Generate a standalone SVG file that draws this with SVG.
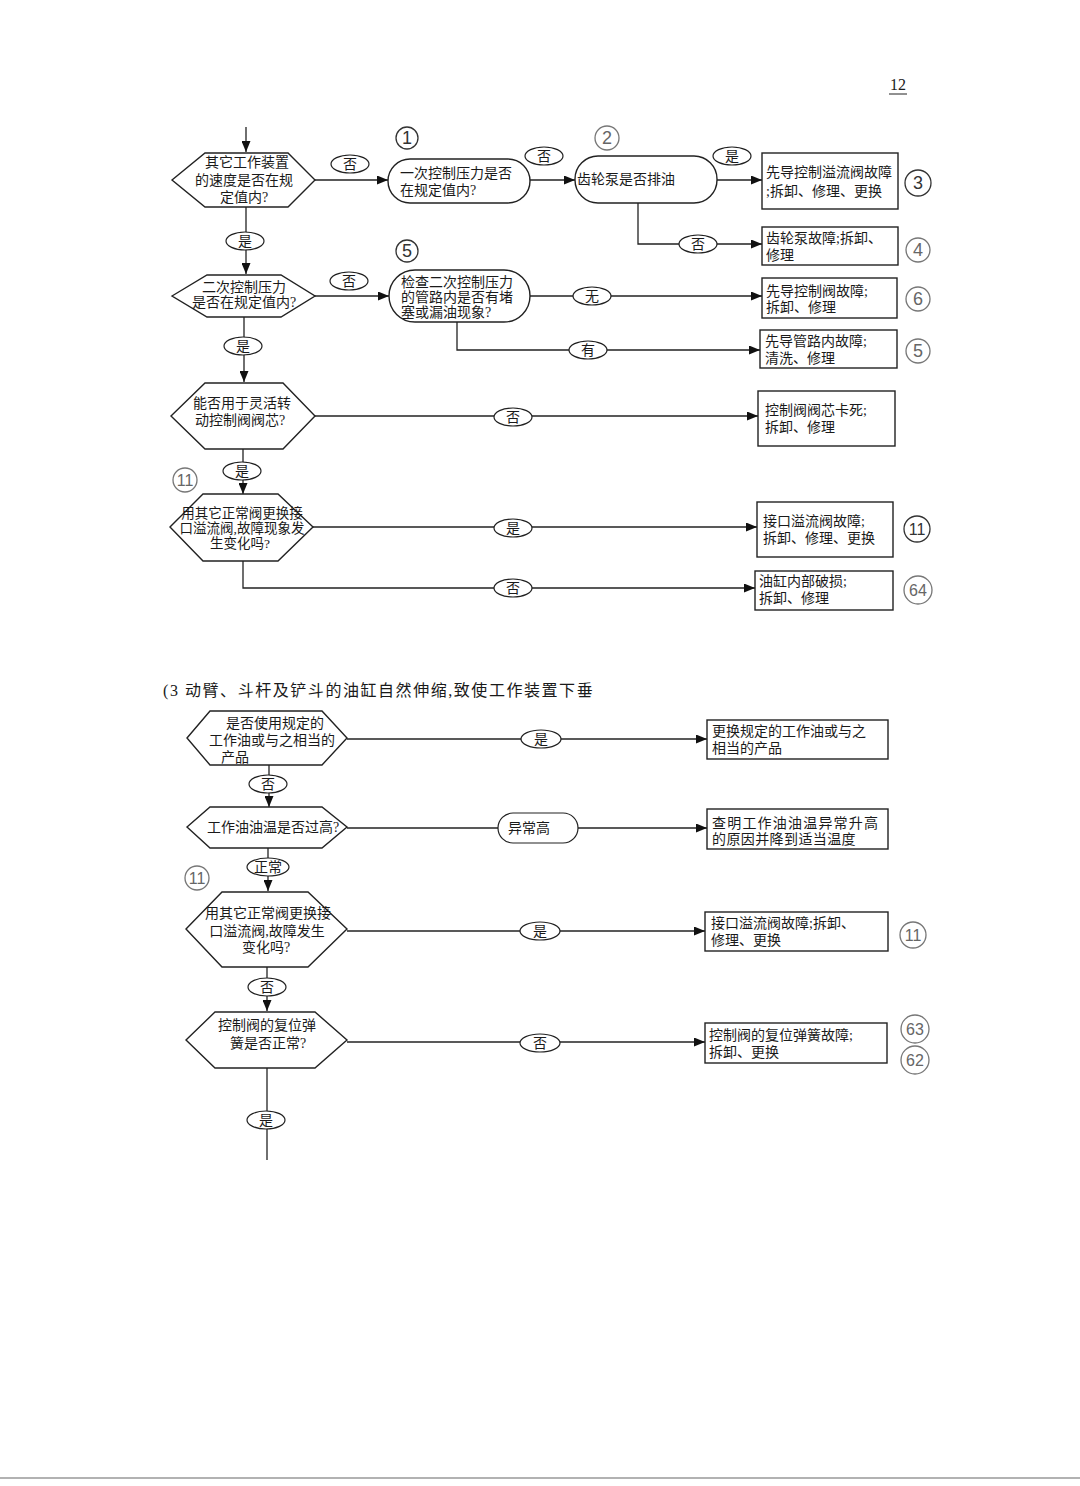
<svg xmlns="http://www.w3.org/2000/svg" width="1080" height="1486" viewBox="0 0 1080 1486">
<defs>
<marker id="arr" markerWidth="11" markerHeight="9" refX="11" refY="4.5" orient="auto" markerUnits="userSpaceOnUse"><path d="M0,0 L11,4.5 L0,9 z" fill="#111"/></marker>
<style>
.shape{fill:#fff;stroke:#222;stroke-width:1.4}
.ln{fill:none;stroke:#222;stroke-width:1.3}
.lbl{fill:#fff;stroke:#222;stroke-width:1.2}
text{font-family:"Liberation Serif","Noto Sans CJK SC",serif;font-size:14px;fill:#1a1a1a;dominant-baseline:central}
.c{text-anchor:middle}
.note{fill:none;stroke:#777;stroke-width:1.3}
.notet{fill:#666;font-family:"Liberation Sans","Noto Sans CJK SC",sans-serif;font-size:18px;text-anchor:middle}
.two{font-size:16px}
.dark{stroke:#333}
.darkt{fill:#333}
.title{font-size:16px;letter-spacing:1.55px}
.pg{font-size:16px}
.sm{font-size:13.5px}
</style>
</defs>
<rect width="1080" height="1486" fill="#fff"/>

<g id="page-number">
<text x="898" y="84" class="c pg">12</text>
<line x1="889" y1="94" x2="907" y2="94" stroke="#222" stroke-width="1"/>
</g>

<g id="connectors">
<line class="ln" x1="246" y1="127" x2="246" y2="152" marker-end="url(#arr)"/>
<line class="ln" x1="315" y1="180" x2="388" y2="180" marker-end="url(#arr)"/>
<ellipse class="lbl" cx="350" cy="164" rx="19" ry="9"/><text x="350" y="164" class="c">否</text>
<line class="ln" x1="530" y1="180" x2="575" y2="180" marker-end="url(#arr)"/>
<ellipse class="lbl" cx="544" cy="156" rx="19" ry="9"/><text x="544" y="156" class="c">否</text>
<line class="ln" x1="717" y1="180" x2="762" y2="180" marker-end="url(#arr)"/>
<ellipse class="lbl" cx="732" cy="156" rx="19" ry="9"/><text x="732" y="156" class="c">是</text>
<path class="ln" d="M638,203 V244 H762" marker-end="url(#arr)"/>
<ellipse class="lbl" cx="698" cy="244" rx="19" ry="9"/><text x="698" y="244" class="c">否</text>
<line class="ln" x1="246" y1="207" x2="246" y2="274" marker-end="url(#arr)"/>
<ellipse class="lbl" cx="245" cy="241" rx="19" ry="9"/><text x="245" y="241" class="c">是</text>
<line class="ln" x1="315" y1="296" x2="389" y2="296" marker-end="url(#arr)"/>
<ellipse class="lbl" cx="349" cy="281" rx="19" ry="9"/><text x="349" y="281" class="c">否</text>
<line class="ln" x1="530" y1="296" x2="762" y2="296" marker-end="url(#arr)"/>
<ellipse class="lbl" cx="592" cy="296" rx="19" ry="9"/><text x="592" y="296" class="c">无</text>
<path class="ln" d="M457,322 V350 H760" marker-end="url(#arr)"/>
<ellipse class="lbl" cx="588" cy="350" rx="19" ry="9"/><text x="588" y="350" class="c">有</text>
<line class="ln" x1="244" y1="317" x2="244" y2="382" marker-end="url(#arr)"/>
<ellipse class="lbl" cx="243" cy="346" rx="19" ry="9"/><text x="243" y="346" class="c">是</text>
<line class="ln" x1="315" y1="416" x2="758" y2="416" marker-end="url(#arr)"/>
<ellipse class="lbl" cx="513" cy="417" rx="19" ry="9"/><text x="513" y="417" class="c">否</text>
<line class="ln" x1="243" y1="449" x2="243" y2="494" marker-end="url(#arr)"/>
<ellipse class="lbl" cx="242" cy="471" rx="19" ry="9"/><text x="242" y="471" class="c">是</text>
<line class="ln" x1="313" y1="527" x2="757" y2="527" marker-end="url(#arr)"/>
<ellipse class="lbl" cx="513" cy="528" rx="19" ry="9"/><text x="513" y="528" class="c">是</text>
<path class="ln" d="M243,561 V588 H755" marker-end="url(#arr)"/>
<ellipse class="lbl" cx="513" cy="588" rx="19" ry="9"/><text x="513" y="588" class="c">否</text>

<line class="ln" x1="347" y1="739" x2="707" y2="739" marker-end="url(#arr)"/>
<ellipse class="lbl" cx="541" cy="739" rx="20" ry="9"/><text x="541" y="739" class="c">是</text>
<line class="ln" x1="269" y1="765" x2="269" y2="807" marker-end="url(#arr)"/>
<ellipse class="lbl" cx="268" cy="784" rx="19" ry="9"/><text x="268" y="784" class="c">否</text>
<line class="ln" x1="347" y1="828" x2="498" y2="828"/>
<rect class="lbl" x="498" y="813" width="80" height="30" rx="15"/><text x="508" y="828">异常高</text>
<line class="ln" x1="578" y1="828" x2="707" y2="828" marker-end="url(#arr)"/>
<line class="ln" x1="268" y1="848" x2="268" y2="891" marker-end="url(#arr)"/>
<ellipse class="lbl" cx="268" cy="867" rx="21" ry="9"/><text x="268" y="867" class="c">正常</text>
<line class="ln" x1="347" y1="931" x2="705" y2="931" marker-end="url(#arr)"/>
<ellipse class="lbl" cx="540" cy="931" rx="20" ry="9"/><text x="540" y="931" class="c">是</text>
<line class="ln" x1="267" y1="967" x2="267" y2="1011" marker-end="url(#arr)"/>
<ellipse class="lbl" cx="267" cy="987" rx="19" ry="9"/><text x="267" y="987" class="c">否</text>
<line class="ln" x1="347" y1="1042" x2="705" y2="1042" marker-end="url(#arr)"/>
<ellipse class="lbl" cx="540" cy="1043" rx="20" ry="9"/><text x="540" y="1043" class="c">否</text>
<line class="ln" x1="267" y1="1068" x2="267" y2="1160"/>
<ellipse class="lbl" cx="266" cy="1120" rx="19" ry="9"/><text x="266" y="1120" class="c">是</text>
</g>

<g id="n1"><polygon class="shape" points="172,180 205,153 288,153 315,180 288,207 205,207"/>
<text x="247" y="162" class="c">其它工作装置</text><text x="244" y="180" class="c">的速度是否在规</text><text x="244" y="197" class="c">定值内?</text></g>
<g id="n2"><rect class="shape" x="388" y="159" width="142" height="44" rx="22"/>
<text x="400" y="173">一次控制压力是否</text><text x="400" y="190">在规定值内?</text></g>
<g id="n3"><rect class="shape" x="575" y="156" width="142" height="47" rx="23"/>
<text x="577" y="179">齿轮泵是否排油</text></g>
<g id="n4"><rect class="shape" x="762" y="153" width="136" height="56"/>
<text x="766" y="172">先导控制溢流阀故障</text><text x="766" y="191">;拆卸、修理、更换</text></g>
<g id="n5"><rect class="shape" x="762" y="227" width="136" height="38"/>
<text x="766" y="238">齿轮泵故障;拆卸、</text><text x="766" y="255">修理</text></g>
<g id="n6"><polygon class="shape" points="172,296 207,275 281,275 315,296 281,317 207,317"/>
<text x="244" y="287" class="c">二次控制压力</text><text x="244" y="302" class="c">是否在规定值内?</text></g>
<g id="n7"><rect class="shape" x="389" y="270" width="141" height="52" rx="26"/>
<text x="401" y="282">检查二次控制压力</text><text x="401" y="297">的管路内是否有堵</text><text x="401" y="312">塞或漏油现象?</text></g>
<g id="n8"><rect class="shape" x="762" y="278" width="135" height="40"/>
<text x="766" y="291">先导控制阀故障;</text><text x="766" y="307">拆卸、修理</text></g>
<g id="n9"><rect class="shape" x="760" y="330" width="137" height="38"/>
<text x="765" y="341">先导管路内故障;</text><text x="765" y="358">清洗、修理</text></g>
<g id="n10"><polygon class="shape" points="171,416 205,383 283,383 315,416 283,449 205,449"/>
<text x="242" y="403" class="c">能否用于灵活转</text><text x="240" y="420" class="c">动控制阀阀芯?</text></g>
<g id="n11"><rect class="shape" x="758" y="391" width="137" height="55"/>
<text x="765" y="410">控制阀阀芯卡死;</text><text x="765" y="427">拆卸、修理</text></g>
<g id="n12"><polygon class="shape" points="170,527 203,494 278,494 313,527 278,561 203,561"/>
<text x="242" y="513" class="c sm">用其它正常阀更换接</text><text x="242" y="528" class="c sm">口溢流阀,故障现象发</text><text x="240" y="543" class="c sm">生变化吗?</text></g>
<g id="n13"><rect class="shape" x="757" y="502" width="136" height="55"/>
<text x="763" y="521">接口溢流阀故障;</text><text x="763" y="538">拆卸、修理、更换</text></g>
<g id="n14"><rect class="shape" x="755" y="571" width="138" height="39"/>
<text x="759" y="581">油缸内部破损;</text><text x="759" y="598">拆卸、修理</text></g>

<g id="title"><text x="163" y="690" class="title">(3 动臂、斗杆及铲斗的油缸自然伸缩,致使工作装置下垂</text></g>

<g id="n15"><polygon class="shape" points="187,738 210,711 322,711 347,738 322,765 210,765"/>
<text x="275" y="723" class="c">是否使用规定的</text><text x="272" y="740" class="c">工作油或与之相当的</text><text x="221" y="757">产品</text></g>
<g id="n16"><rect class="shape" x="707" y="720" width="181" height="39"/>
<text x="712" y="731">更换规定的工作油或与之</text><text x="712" y="748">相当的产品</text></g>
<g id="n17"><polygon class="shape" points="187,827 210,807 322,807 347,827 322,848 210,848"/>
<text x="207" y="827">工作油油温是否过高?</text></g>
<g id="n19"><rect class="shape" x="707" y="809" width="181" height="40"/>
<text x="712" y="823" letter-spacing="1.2">查明工作油油温异常升高</text><text x="712" y="839" letter-spacing="0.4">的原因并降到适当温度</text></g>
<g id="n20"><polygon class="shape" points="186,929 222,892 308,892 347,929 308,967 222,967"/>
<text x="268" y="913" class="c">用其它正常阀更换接</text><text x="267" y="931" class="c">口溢流阀,故障发生</text><text x="266" y="947" class="c">变化吗?</text></g>
<g id="n21"><rect class="shape" x="705" y="912" width="183" height="39"/>
<text x="711" y="923">接口溢流阀故障;拆卸、</text><text x="711" y="940">修理、更换</text></g>
<g id="n22"><polygon class="shape" points="186,1040 215,1012 315,1012 347,1040 315,1068 215,1068"/>
<text x="267" y="1025" class="c">控制阀的复位弹</text><text x="268" y="1043" class="c">簧是否正常?</text></g>
<g id="n23"><rect class="shape" x="705" y="1023" width="182" height="40"/>
<text x="709" y="1035">控制阀的复位弹簧故障;</text><text x="709" y="1052">拆卸、更换</text></g>

<g id="annotations">
<circle class="note dark" cx="407" cy="138" r="11"/><text class="notet darkt" x="407" y="138">1</text>
<circle class="note" cx="607" cy="138" r="12"/><text class="notet" x="607" y="138">2</text>
<circle class="note dark" cx="918" cy="183" r="13"/><text class="notet darkt" x="918" y="183">3</text>
<circle class="note" cx="918" cy="250" r="12"/><text class="notet" x="918" y="250">4</text>
<circle class="note dark" cx="407" cy="251" r="11"/><text class="notet darkt" x="407" y="251">5</text>
<circle class="note" cx="918" cy="299" r="12"/><text class="notet" x="918" y="299">6</text>
<circle class="note" cx="918" cy="351" r="12"/><text class="notet" x="918" y="351">5</text>
<circle class="note" cx="185" cy="480" r="12"/><text class="notet two" x="185" y="480">11</text>
<circle class="note dark" cx="917" cy="529" r="13"/><text class="notet two darkt" x="917" y="529">11</text>
<circle class="note" cx="918" cy="590" r="14"/><text class="notet two" x="918" y="590">64</text>
<circle class="note" cx="197" cy="878" r="12"/><text class="notet two" x="197" y="878">11</text>
<circle class="note" cx="913" cy="935" r="13"/><text class="notet two" x="913" y="935">11</text>
<circle class="note" cx="915" cy="1029" r="14"/><text class="notet two" x="915" y="1029">63</text>
<circle class="note" cx="915" cy="1060" r="14"/><text class="notet two" x="915" y="1060">62</text>
</g>

<line x1="0" y1="1478" x2="1080" y2="1478" stroke="#999" stroke-width="1.5"/>
</svg>
